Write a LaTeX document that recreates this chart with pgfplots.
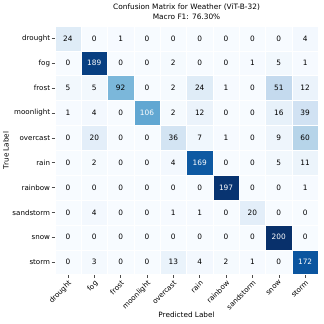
\documentclass[border=0pt]{standalone}
\usepackage{fontspec}
\setmainfont{DejaVu Sans}
\usepackage{pgfplots}
\pgfplotsset{compat=1.18}
\usetikzlibrary{calc}
\begin{document}
\begin{tikzpicture}
\begin{axis}[
    scale only axis,
    width            = 264pt,
    height           = 249pt,
    xmin=-0.5, xmax=9.5, ymin=-0.5, ymax=9.5,
    y dir            = reverse,
    enlargelimits    = false,
    axis line style  = {draw=none},
    xtick            = {0,...,9},
    ytick            = {0,...,9},
    xticklabels      = {drought,fog,frost,moonlight,overcast,rain,rainbow,sandstorm,snow,storm},
    yticklabels      = {drought,fog,frost,moonlight,overcast,rain,rainbow,sandstorm,snow,storm},
    xtick pos        = bottom,
    ytick pos        = left,
    tick align       = outside,
    major tick length= 3pt,
    tick style       = {gray!60!black, line width=0.5pt},
    ticklabel style  = {font=\fontsize{7.1}{8.5}\selectfont},
    xticklabel style = {rotate=45, anchor=north east, inner sep=1.5pt},
    yticklabel style = {inner sep=1.5pt},
    xlabel           = {Predicted Label},
    ylabel           = {True Label},
    label style      = {font=\fontsize{7.3}{8.5}\selectfont},
    xlabel style     = {at={($(axis cs:4.5,9.5)+(0pt,-40.5pt)$)}, anchor=center},
    ylabel style     = {at={($(axis cs:-0.5,4.5)+(-49pt,0pt)$)}, anchor=center},
    title            = {Confusion Matrix for Weather (ViT-B-32)\\Macro F1: 76.30\%},
    title style      = {align=center, font=\fontsize{7.4}{9.5}\selectfont, yshift=-3pt},
    colormap         = {blues}{rgb255=(247,251,255) rgb255=(222,235,247) rgb255=(198,219,239)
                        rgb255=(158,202,225) rgb255=(107,174,214) rgb255=(66,146,198)
                        rgb255=(33,113,181) rgb255=(8,81,156) rgb255=(8,48,107)},
    point meta min   = 0,
    point meta max   = 200,
    /pgf/number format/assume math mode=true,
]
% rows = true label, columns = predicted label
\addplot[
    matrix plot*, mesh/cols=10, point meta=explicit,
    draw=white, line width=0.4pt,
    nodes near coords={\pgfmathprintnumber{\pgfplotspointmeta}},
    nodes near coords align=center,
    every node near coord/.append style={font=\fontsize{7.4}{8.5}\selectfont, text=black},
    every node near coord/.append code={%
        \ifdim\pgfplotspointmetatransformed pt>500pt \pgfkeysalso{text=white}\fi},
] coordinates {
(0,0)[24] (1,0)[0] (2,0)[1] (3,0)[0] (4,0)[0] (5,0)[0] (6,0)[0] (7,0)[0] (8,0)[0] (9,0)[4]
(0,1)[0] (1,1)[189] (2,1)[0] (3,1)[0] (4,1)[2] (5,1)[0] (6,1)[0] (7,1)[1] (8,1)[5] (9,1)[1]
(0,2)[5] (1,2)[5] (2,2)[92] (3,2)[0] (4,2)[2] (5,2)[24] (6,2)[1] (7,2)[0] (8,2)[51] (9,2)[12]
(0,3)[1] (1,3)[4] (2,3)[0] (3,3)[106] (4,3)[2] (5,3)[12] (6,3)[0] (7,3)[0] (8,3)[16] (9,3)[39]
(0,4)[0] (1,4)[20] (2,4)[0] (3,4)[0] (4,4)[36] (5,4)[7] (6,4)[1] (7,4)[0] (8,4)[9] (9,4)[60]
(0,5)[0] (1,5)[2] (2,5)[0] (3,5)[0] (4,5)[4] (5,5)[169] (6,5)[0] (7,5)[0] (8,5)[5] (9,5)[11]
(0,6)[0] (1,6)[0] (2,6)[0] (3,6)[0] (4,6)[0] (5,6)[0] (6,6)[197] (7,6)[0] (8,6)[0] (9,6)[1]
(0,7)[0] (1,7)[4] (2,7)[0] (3,7)[0] (4,7)[1] (5,7)[1] (6,7)[0] (7,7)[20] (8,7)[0] (9,7)[0]
(0,8)[0] (1,8)[0] (2,8)[0] (3,8)[0] (4,8)[0] (5,8)[0] (6,8)[0] (7,8)[0] (8,8)[200] (9,8)[0]
(0,9)[0] (1,9)[3] (2,9)[0] (3,9)[0] (4,9)[13] (5,9)[4] (6,9)[2] (7,9)[1] (8,9)[0] (9,9)[172]
};
\coordinate (bl) at (axis cs:-0.5,9.5);
\coordinate (tr) at (axis cs:9.5,-0.5);
\end{axis}
\pgfresetboundingbox
\path[use as bounding box] ($(bl)+(-54.8pt,-49.5pt)$) rectangle ($(tr)+(5pt,26pt)$);
\end{tikzpicture}
\end{document}
